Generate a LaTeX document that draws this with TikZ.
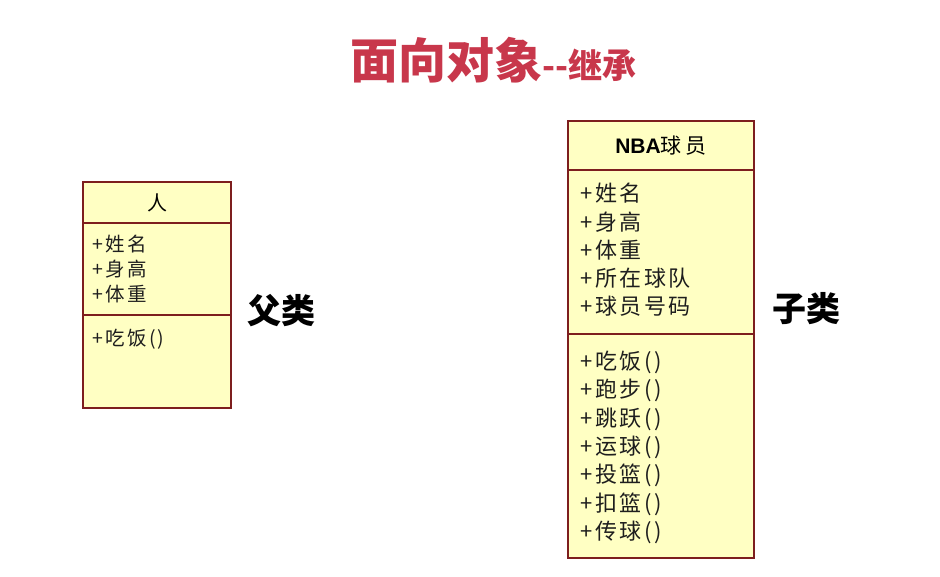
\documentclass[tikz,border=0pt]{standalone}
\usepackage{fontspec}
\setmainfont{Noto Sans CJK SC}
\newfontfamily\latinfont{Liberation Sans}
\newfontfamily\boxfont[LetterSpace=12]{Noto Sans CJK SC}
\definecolor{titlered}{RGB}{200,55,75}
\definecolor{boxfill}{RGB}{255,255,195}
\definecolor{boxline}{RGB}{125,30,30}
\definecolor{boxtext}{RGB}{30,30,30}
\tikzset{
  part/.style={draw=boxline, fill=boxfill, line width=1.3pt, anchor=north west, inner sep=0pt, outer sep=0pt},
  lefttxt/.style={anchor=base west, inner sep=0pt, text=boxtext, font=\boxfont\fontsize{19.5}{19.5}\selectfont},
  righttxt/.style={anchor=base west, inner sep=0pt, text=boxtext, font=\boxfont\fontsize{22}{22}\selectfont},
  sidelabel/.style={inner sep=0pt, font=\fontsize{34}{34}\selectfont\bfseries},
}
\begin{document}
\begin{tikzpicture}[x=1pt,y=-1pt]
\fill[white] (0,0) rectangle (940,577);
\useasboundingbox (0,0) rectangle (940,577);

% title
\node[anchor=base west, inner sep=0pt, text=titlered] (title) at (350,79)
  {\fontsize{48}{48}\selectfont\bfseries 面向对象\fontsize{34}{34}\selectfont -{}-继承};

% parent class
\node[part, minimum width=148pt, minimum height=41pt] (pH) at (83,182) {};
\node[part, minimum width=148pt, minimum height=92pt] (pA) at (83,223) {};
\node[part, minimum width=148pt, minimum height=93pt] (pM) at (83,315) {};
\node[inner sep=0pt, font=\fontsize{20}{20}\selectfont] (pName) at (pH.center) {人};
\foreach \t [count=\i] in {+姓名, +身高, +体重}
  \node[lefttxt] (pa\i) at (92,{252+25*(\i-1)}) {\t};
\node[lefttxt] (pm1) at (92,345) {+吃饭()};
\node[sidelabel] (parentlabel) at (281,311) {父类};

% child class
\node[part, minimum width=186pt, minimum height=49pt] (cH) at (568,121) {};
\node[part, minimum width=186pt, minimum height=164pt] (cA) at (568,170) {};
\node[part, minimum width=186pt, minimum height=224pt] (cM) at (568,334) {};
\node[inner sep=0pt, font=\fontsize{21}{21}\selectfont] (cName) at (cH.center)
  {{\latinfont\bfseries NBA}球\hspace{4pt}员};
\foreach \t [count=\i] in {+姓名, +身高, +体重, +所在球队, +球员号码}
  \node[righttxt] (ca\i) at (580,{202+28.2*(\i-1)}) {\t};
\foreach \t [count=\i] in {+吃饭(), +跑步(), +跳跃(), +运球(), +投篮(), +扣篮(), +传球()}
  \node[righttxt] (cm\i) at (580,{369.5+28.3*(\i-1)}) {\t};
\node[sidelabel] (childlabel) at (806,309) {子类};
\end{tikzpicture}
\end{document}
